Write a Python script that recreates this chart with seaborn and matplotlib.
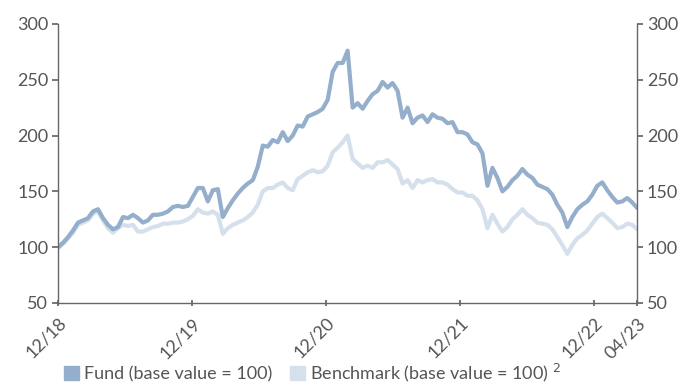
import numpy as np
import pandas as pd
import seaborn as sns
import matplotlib.pyplot as plt
from matplotlib.patches import Patch

# values, roughly every two weeks from 12/18 to 04/23
fund = [100, 104, 109, 115, 122, 124, 126, 132, 134, 126,
        120, 116, 118, 127, 126, 129, 126, 122, 124, 129,
        129, 130, 132, 136, 137, 136, 137, 145, 153, 153,
        141, 151, 152, 127, 135, 142, 148, 153, 157, 160,
        172, 191, 190, 196, 194, 203, 195, 200, 209, 208,
        217, 219, 221, 224, 232, 257, 265, 265, 276, 225,
        229, 224, 231, 237, 240, 248, 243, 247, 240, 216,
        225, 211, 216, 218, 212, 219, 216, 215, 211, 212,
        203, 203, 201, 194, 192, 184, 155, 171, 162, 150,
        154, 160, 164, 170, 165, 162, 156, 154, 152, 147,
        138, 131, 118, 127, 134, 138, 141, 147, 155, 158,
        151, 145, 140, 141, 144, 140, 135]
bench = [99, 103, 108, 113, 120, 122, 124, 130, 132, 124,
         117, 113, 117, 120, 119, 120, 114, 114, 116, 118,
         119, 121, 121, 122, 122, 123, 125, 128, 134, 131,
         130, 132, 129, 112, 117, 120, 122, 124, 127, 131,
         138, 150, 153, 153, 156, 158, 153, 151, 161, 164,
         167, 169, 167, 168, 173, 185, 189, 194, 200, 179,
         175, 171, 173, 171, 176, 176, 178, 174, 170, 157,
         160, 153, 160, 158, 160, 161, 158, 158, 156, 152,
         149, 149, 146, 146, 142, 134, 117, 129, 121, 114,
         118, 125, 129, 134, 129, 126, 122, 121, 120, 116,
         109, 102, 94, 102, 108, 111, 115, 121, 127, 130,
         126, 122, 117, 118, 121, 120, 116]
dates = pd.date_range("2018-12-31", "2023-04-28", periods=len(fund))

tick_dates = pd.to_datetime(["2018-12-31", "2019-12-31", "2020-12-31",
                             "2021-12-31", "2022-12-31", "2023-04-28"])
tick_labels = ["12/18", "12/19", "12/20", "12/21", "12/22", "04/23"]

fund_label = "Fund (base value = 100)"
bench_label = "Benchmark (base value = 100) $^2$"

df = pd.DataFrame({"date": list(dates) * 2,
                   "value": fund + bench,
                   "series": [fund_label] * len(fund) + [bench_label] * len(bench)})

sns.set_theme(style="white")
plt.rcParams['font.family'] = ['Lato', 'DejaVu Sans']

c_fund = "#94aecb"
c_bench = "#d5e0ec"
grey = "#555555"

fig = plt.figure(figsize=(6.83, 3.85), dpi=100)
ax = fig.add_axes([0.085, 0.213, 0.848, 0.725])

sns.lineplot(data=df, x="date", y="value", hue="series",
             hue_order=[bench_label, fund_label],
             palette={fund_label: c_fund, bench_label: c_bench},
             linewidth=3, legend=False, ax=ax)

ax.set_ylim(50, 300)
ax.set_xlim(tick_dates[0], tick_dates[-1])
ax.set_yticks([50, 100, 150, 200, 250, 300])
ax.set_xticks(tick_dates)
ax.set_xticklabels(tick_labels, rotation=45, ha="right", rotation_mode="anchor")
ax.set_xlabel("")
ax.set_ylabel("")

for s in ["left", "right", "bottom"]:
    ax.spines[s].set_color("#666666")
    ax.spines[s].set_linewidth(1)
ax.spines["top"].set_visible(False)

ax.tick_params(axis="y", left=True, right=True, labelleft=True, labelright=True,
               direction="out", length=4, color="#666666", labelsize=13,
               labelcolor=grey, pad=3)
ax.tick_params(axis="x", bottom=True, direction="inout", length=5,
               color="#666666", labelsize=13, labelcolor=grey, pad=6)

handles = [Patch(color=c_fund, label=fund_label),
           Patch(color=c_bench, label=bench_label)]
fig.legend(handles=handles, loc="lower left", bbox_to_anchor=(0.07, -0.04),
           ncol=2, frameon=False, fontsize=13, labelcolor=grey,
           handlelength=0.8, handleheight=0.8, handletextpad=0.3,
           columnspacing=1.0)

fig.savefig("out.png", dpi=100)
